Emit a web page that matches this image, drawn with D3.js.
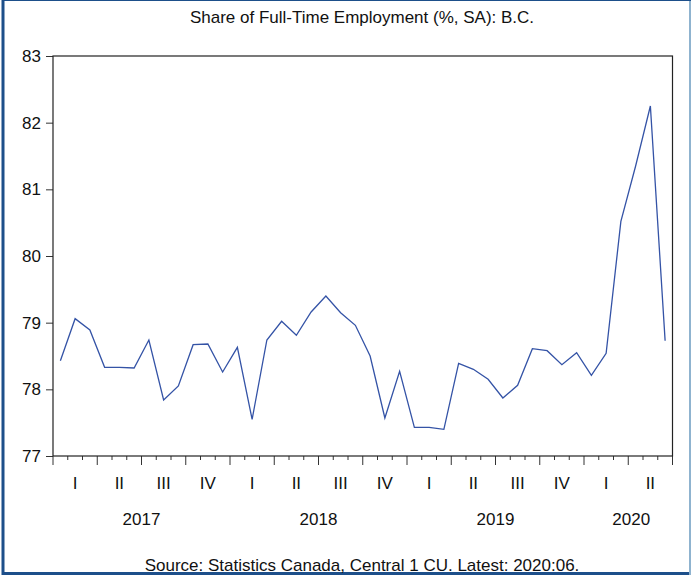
<!DOCTYPE html>
<html>
<head>
<meta charset="utf-8">
<script src="https://cdn.jsdelivr.net/npm/d3@7"></script>
<style>
  body { margin: 0; background: #fff; }
  svg text { font-family: "Liberation Sans", Arial, sans-serif; fill: #111; }
</style>
</head>
<body>
<div id="chart"></div>
<script>
// Monthly values, 2017:01 .. 2020:06
const shareValues = [
  78.43, 79.06, 78.89, 78.33, 78.33, 78.32, 78.74, 77.84, 78.05, 78.67, 78.68, 78.26,
  78.63, 77.55, 78.74, 79.02, 78.81, 79.16, 79.40, 79.15, 78.96, 78.50, 77.57, 78.27,
  77.43, 77.43, 77.40, 78.39, 78.30, 78.15, 77.87, 78.06, 78.61, 78.58, 78.37, 78.55,
  78.21, 78.54, 80.52, 81.35, 82.25, 78.73
];
const yTicks = [77, 78, 79, 80, 81, 82, 83];
const quarterLabels = ["I", "II", "III", "IV", "I", "II", "III", "IV", "I", "II", "III", "IV", "I", "II"];
const yearLabels = ["2017", "2018", "2019", "2020"];
const yearMonths = [12, 12, 12, 6];

const WIDTH = 691, HEIGHT = 579;
const PLOT = { left: 53, right: 672.5, top: 56, bottom: 456 };
const FONT = "17px";

const svg = d3.select("#chart").append("svg")
  .attr("width", WIDTH)
  .attr("height", HEIGHT);

// frame
svg.append("line").attr("x1", 3).attr("x2", 3).attr("y1", 0).attr("y2", 575)
  .attr("stroke", "#1d4f8a").attr("stroke-width", 3);
svg.append("line").attr("x1", 2).attr("x2", 691).attr("y1", 573.5).attr("y2", 573.5)
  .attr("stroke", "#1d4f8a").attr("stroke-width", 3);
svg.append("line").attr("x1", 690).attr("x2", 690).attr("y1", 0).attr("y2", 575)
  .attr("stroke", "#8fb3cf").attr("stroke-width", 2);
svg.append("line").attr("x1", 2).attr("x2", 691).attr("y1", 0.5).attr("y2", 0.5)
  .attr("stroke", "#1d4f8a").attr("stroke-width", 1);

// scales: each month is one band, value drawn at its centre
const x = d3.scaleLinear().domain([0, 42]).range([PLOT.left, PLOT.right]);
const y = d3.scaleLinear().domain([77, 83]).range([PLOT.bottom, PLOT.top]);

// title
svg.append("text")
  .attr("x", 362).attr("y", 23)
  .attr("text-anchor", "middle")
  .style("font-size", FONT)
  .text("Share of Full-Time Employment (%, SA): B.C.");

// y axis
const yAxis = svg.append("g")
  .attr("transform", "translate(" + PLOT.left + ",0)")
  .call(d3.axisLeft(y).tickValues(yTicks).tickSize(7).tickPadding(5).tickFormat(d3.format("d")));
yAxis.select(".domain").remove();
yAxis.selectAll("line").attr("stroke", "#333");
yAxis.selectAll("text").style("font-size", FONT).attr("fill", "#111");

// x axis ticks: short per month, longer per quarter
const xAxis = svg.append("g")
  .attr("transform", "translate(0," + PLOT.bottom + ")");
xAxis.selectAll("line.tick")
  .data(d3.range(43))
  .enter().append("line")
  .attr("x1", d => x(d)).attr("x2", d => x(d))
  .attr("y1", 0).attr("y2", d => d % 3 === 0 ? 9 : 4)
  .attr("stroke", "#333");

xAxis.selectAll("text.q")
  .data(quarterLabels)
  .enter().append("text")
  .attr("class", "q")
  .attr("x", (d, i) => x(i * 3 + 1.5))
  .attr("y", 33)
  .attr("text-anchor", "middle")
  .style("font-size", FONT)
  .text(d => d);

let start = 0;
const yearCenters = yearMonths.map(n => { const c = start + n / 2; start += n; return c; });
xAxis.selectAll("text.yr")
  .data(yearLabels)
  .enter().append("text")
  .attr("class", "yr")
  .attr("x", (d, i) => x(yearCenters[i]) + (i === 3 ? 3 : 0))
  .attr("y", 69)
  .attr("text-anchor", "middle")
  .style("font-size", FONT)
  .text(d => d);

// plot box
svg.append("rect")
  .attr("x", PLOT.left).attr("y", PLOT.top)
  .attr("width", PLOT.right - PLOT.left).attr("height", PLOT.bottom - PLOT.top)
  .attr("fill", "none").attr("stroke", "#222").attr("stroke-width", 1.2);

// series line
const line = d3.line()
  .x((d, i) => x(i + 0.5))
  .y(d => y(d));
svg.append("path")
  .datum(shareValues)
  .attr("d", line)
  .attr("fill", "none")
  .attr("stroke", "#3453a6")
  .attr("stroke-width", 1.3);

// source
svg.append("text")
  .attr("x", 362).attr("y", 571)
  .attr("text-anchor", "middle")
  .style("font-size", FONT)
  .text("Source: Statistics Canada, Central 1 CU. Latest: 2020:06.");
</script>
</body>
</html>
